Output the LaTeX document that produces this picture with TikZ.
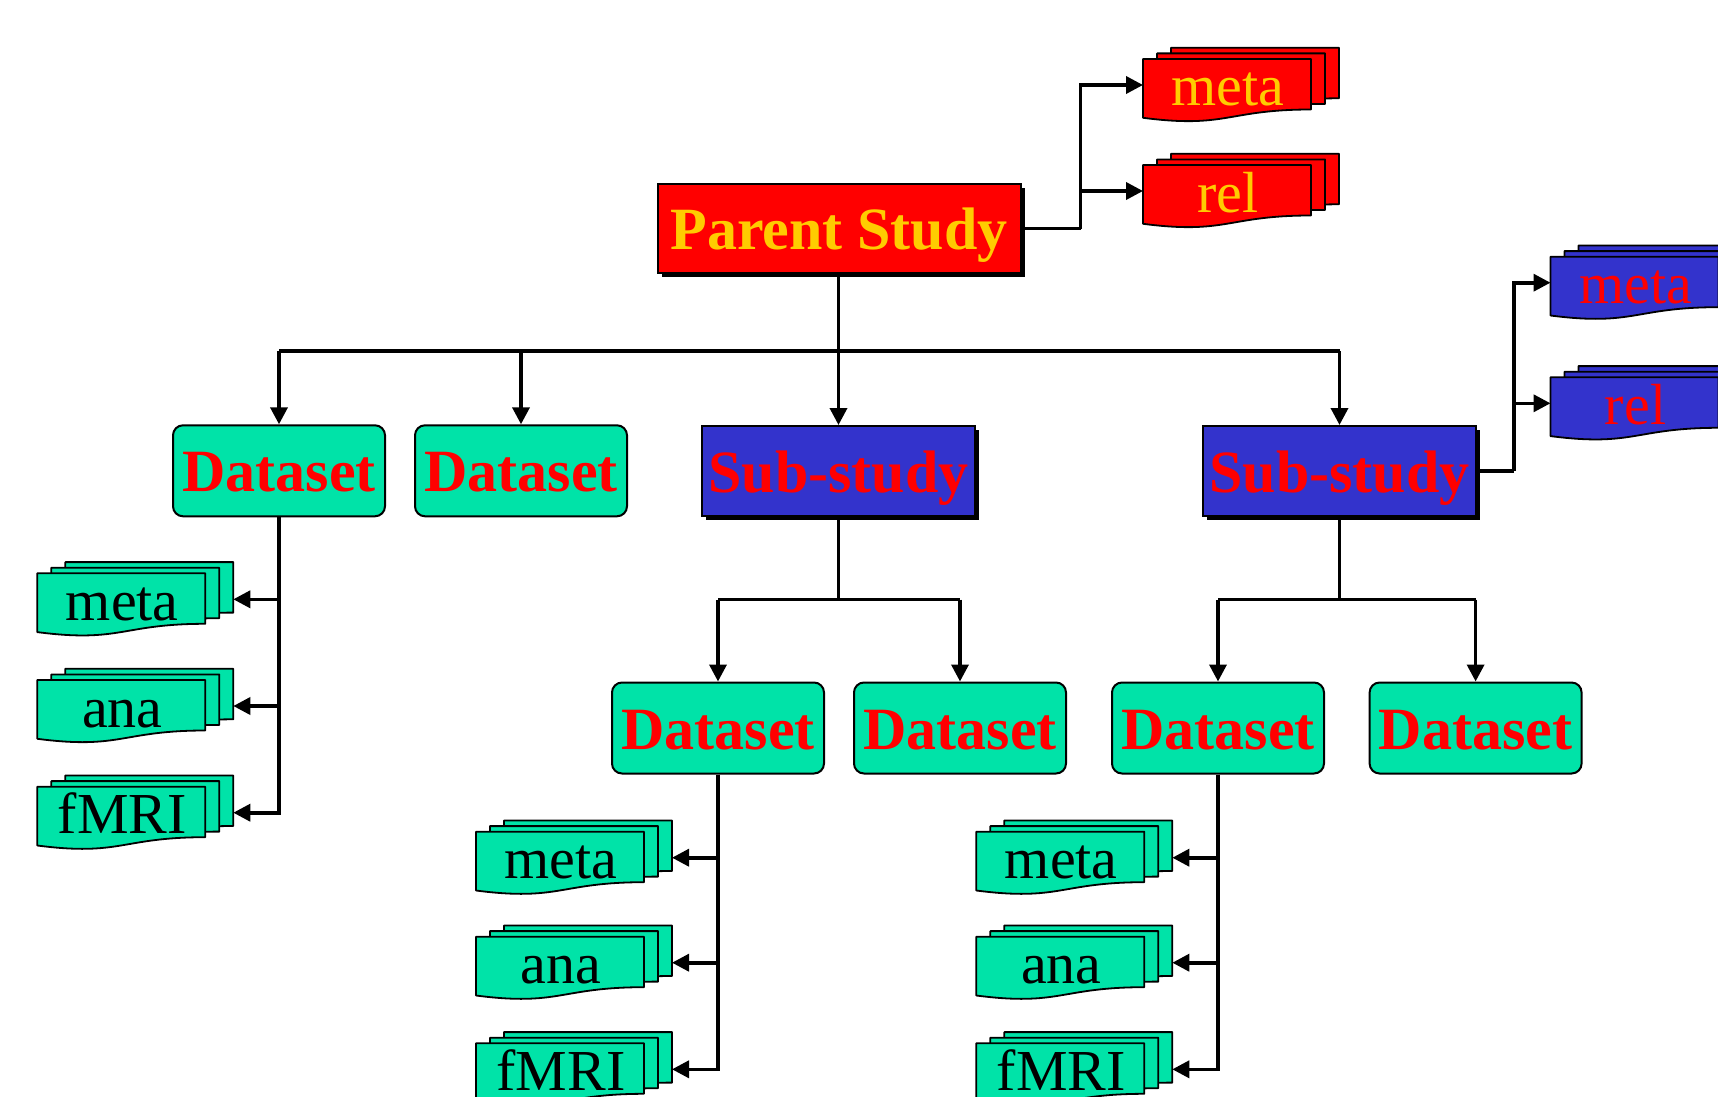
\documentclass[tikz,border=0pt]{standalone}
\usepackage{fontspec}
\setmainfont{Liberation Serif}
\usetikzlibrary{arrows.meta,shadows}

\definecolor{dsgreen}{RGB}{0,227,168}
\definecolor{subblue}{RGB}{51,51,204}
\definecolor{pred}{RGB}{255,0,0}
\definecolor{pgold}{RGB}{255,204,0}

% A stack of three "document" cards; #1 name, #2/#3 top-left of the front card,
% #4 fill, #5 text colour, #6 label
\newcommand\stackcard[6]{%
  \foreach \k in {2,1,0}{%
    \path[cardline, fill=#4] ({#2+14*\k},{#3-5.6*\k}) -- ++(168,0) -- ++(0,50.5)
      .. controls ({#2+14*\k+84},{#3-5.6*\k+50.5}) and ({#2+14*\k+84},{#3-5.6*\k+69.7})
      .. ({#2+14*\k},{#3-5.6*\k+58.8}) -- cycle;}
  \node[cardlbl, text=#5, anchor=base] (#1) at ({#2+85},{#3+47}) {#6};
  \coordinate (#1-r) at ({#2+196},{#3+26});
  \coordinate (#1-l) at ({#2},{#3+26});
}

\begin{document}
\begin{tikzpicture}[x=1pt,y=-1pt,
  cardline/.style={draw=black, line width=1.8pt, line join=round},
  cardlbl/.style={font=\fontsize{58}{58}\selectfont, inner sep=0pt},
  bigbox/.style={draw=black, line width=2pt, inner sep=0pt,
    font=\fontsize{60}{60}\selectfont\bfseries, text height=42pt, text depth=0pt},
  dsbox/.style={bigbox, rounded corners=10pt, fill=dsgreen, text=pred,
    minimum width=212pt, minimum height=91pt},
  subbox/.style={bigbox, fill=subblue, text=pred, minimum width=273pt, minimum height=90pt,
    drop shadow={shadow xshift=4pt, shadow yshift=-4pt, opacity=1, fill=black}},
  parentbox/.style={bigbox, fill=pred, text=pgold, minimum width=363pt, minimum height=89pt,
    drop shadow={shadow xshift=4pt, shadow yshift=-4pt, opacity=1, fill=black}},
  conn/.style={draw=black, line width=3.6pt, line join=miter},
  arr/.style={conn, -{Triangle[length=17pt,width=17pt]}}
]
\useasboundingbox (0,0) rectangle (1718,1097);
\fill[white] (0,0) rectangle (1718,1097);
\clip (0,0) rectangle (1718,1097);

% main boxes
\node[parentbox] (parent) at (839,228.5) {Parent Study};
\node[dsbox] (d1) at (279,470.8) {Dataset};
\node[dsbox] (d2) at (521,470.8) {Dataset};
\node[subbox] (s1) at (838.5,471) {Sub-study};
\node[subbox] (s2) at (1339.5,471) {Sub-study};
\node[dsbox] (e1) at (718,728) {Dataset};
\node[dsbox] (e2) at (960,728) {Dataset};
\node[dsbox] (e3) at (1218,728) {Dataset};
\node[dsbox] (e4) at (1475.6,728) {Dataset};

% stacked file cards
\stackcard{pmeta}{1143}{59}{pred}{pgold}{meta}
\stackcard{prel}{1143}{165}{pred}{pgold}{rel}
\stackcard{smeta}{1550.5}{256.7}{subblue}{pred}{meta}
\stackcard{srel}{1550.5}{377.3}{subblue}{pred}{rel}
\stackcard{ameta}{37.3}{573.3}{dsgreen}{black}{meta}
\stackcard{aana}{37.3}{680}{dsgreen}{black}{ana}
\stackcard{afmri}{37.3}{786.7}{dsgreen}{black}{fMRI}
\stackcard{bmeta}{476}{831.7}{dsgreen}{black}{meta}
\stackcard{bana}{476}{936.7}{dsgreen}{black}{ana}
\stackcard{bfmri}{476}{1043.3}{dsgreen}{black}{fMRI}
\stackcard{cmeta}{976.3}{831.7}{dsgreen}{black}{meta}
\stackcard{cana}{976.3}{936.7}{dsgreen}{black}{ana}
\stackcard{cfmri}{976.3}{1043.3}{dsgreen}{black}{fMRI}

% parent study to its files
\draw[conn] (parent.east) -- ++(59,0) coordinate (pj);
\draw[arr] (pj) |- (pmeta-l);
\draw[arr] (pj) |- (prel-l);

% parent study to first level
\draw[conn] (parent.south -| s1.north) -- ++(0,77) coordinate (bus);
\draw[conn] (bus -| d1.north) -- (bus -| s2.north);
\draw[arr] (bus -| d1.north) -- (d1.north);
\draw[arr] (bus -| d2.north) -- (d2.north);
\draw[arr] (bus) -- (s1.north);
\draw[arr] (bus -| s2.north) -- (s2.north);

% sub-study to its files
\draw[conn] (s2.east) -- ++(37,0) coordinate (sj);
\draw[arr] (sj) |- (smeta-l);
\draw[arr] (sj) |- (srel-l);

% sub-studies to their datasets
\draw[conn] (s1.south) -- ++(0,82.5) coordinate (b1);
\draw[conn] (b1 -| e1.north) -- (b1 -| e2.north);
\draw[arr] (b1 -| e1.north) -- (e1.north);
\draw[arr] (b1 -| e2.north) -- (e2.north);
\draw[conn] (s2.south) -- ++(0,82.5) coordinate (b2);
\draw[conn] (b2 -| e3.north) -- (b2 -| e4.north);
\draw[arr] (b2 -| e3.north) -- (e3.north);
\draw[arr] (b2 -| e4.north) -- (e4.north);

% datasets to their files
\draw[arr] (d1.south) |- (ameta-r);
\draw[arr] (d1.south) |- (aana-r);
\draw[arr] (d1.south) |- (afmri-r);
\draw[arr] (e1.south) |- (bmeta-r);
\draw[arr] (e1.south) |- (bana-r);
\draw[arr] (e1.south) |- (bfmri-r);
\draw[arr] (e3.south) |- (cmeta-r);
\draw[arr] (e3.south) |- (cana-r);
\draw[arr] (e3.south) |- (cfmri-r);
\end{tikzpicture}
\end{document}
